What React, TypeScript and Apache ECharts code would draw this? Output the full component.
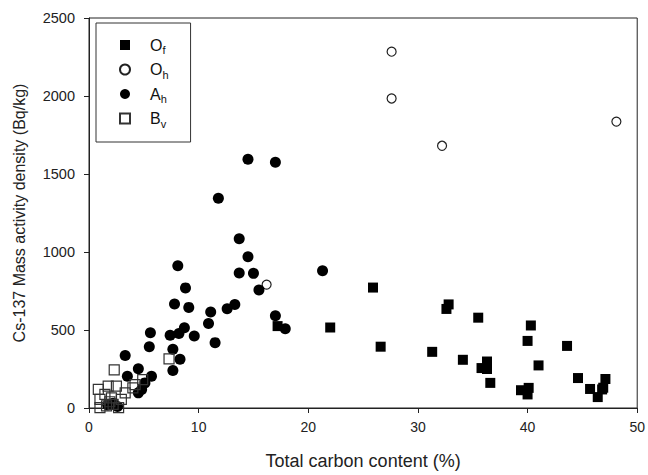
import React, { useEffect, useRef } from "react";
import * as echarts from "echarts";

const ofData: number[][] = [
  [17.2, 525], [22.0, 516], [25.9, 772], [26.6, 393], [32.8, 664], [32.6, 635],
  [35.5, 579], [31.3, 360], [34.1, 309], [36.3, 298], [35.8, 256], [36.3, 250],
  [36.6, 161], [40.3, 529], [40.0, 430], [41.0, 273], [43.6, 398], [39.4, 114],
  [40.1, 129], [40.0, 87], [44.6, 192], [45.7, 122], [47.1, 186], [46.8, 119],
  [46.4, 70], [46.9, 130],
];
const ohData: number[][] = [
  [27.6, 2284], [27.6, 1984], [32.2, 1681], [48.1, 1836], [16.2, 791],
];
const ahData: number[][] = [
  [14.5, 1595], [17.0, 1576], [11.8, 1345], [13.7, 1085], [14.5, 969], [13.7, 865],
  [15.0, 863], [21.3, 880], [15.5, 757], [11.1, 615], [10.9, 541], [12.6, 636],
  [13.3, 664], [11.5, 419], [17.0, 592], [17.9, 508],
  [8.1, 912], [8.8, 770], [7.8, 666], [9.1, 645], [5.6, 482], [7.4, 467], [8.2, 478],
  [8.7, 514], [9.6, 461], [5.5, 393], [7.65, 376], [8.3, 313], [7.65, 241],
  [3.3, 336], [4.5, 252], [3.5, 203], [5.7, 203], [5.1, 161], [4.8, 119], [4.5, 97],
  [1.7, 20], [2.2, 30], [2.6, 10],
];
const bvData: number[][] = [
  [7.3, 315], [2.3, 245], [4.2, 150], [4.9, 182], [4.0, 129], [0.85, 119], [1.75, 140],
  [2.5, 140], [1.45, 87], [3.3, 97], [1.0, 55], [2.05, 65], [2.95, 55], [1.0, 2],
  [1.6, 13], [2.2, 23], [2.7, 2], [1.9, 40],
];

const legendNames = ["O_f", "O_h", "A_h", "B_v"];

export default function App() {
  const ref = useRef<HTMLDivElement>(null);
  useEffect(() => {
    document.body.style.margin = "0";
    if (!ref.current) return;
    const chart = echarts.init(ref.current, null, { renderer: "svg" });
    const font = "Liberation Sans, Arial, sans-serif";
    chart.setOption({
      animation: false,
      textStyle: { fontFamily: font },
      grid: { left: 89, right: 8, top: 18, bottom: 63, show: true, borderColor: "#222", borderWidth: 1 },
      legend: {
        orient: "vertical",
        left: 96,
        top: 23,
        width: 84,
        padding: [14, 22, 13, 23],
        borderColor: "#333",
        borderWidth: 1,
        itemGap: 6,
        itemWidth: 10,
        itemHeight: 10,
        data: legendNames.map((n) => ({ name: n, itemStyle: { opacity: 1 } })),
        formatter: (name: string) => {
          const [a, b] = name.split("_");
          return `{m|${a}}{s|${b}}`;
        },
        textStyle: {
          padding: [0, 0, 0, 15],
          rich: {
            m: { fontSize: 16, lineHeight: 20, color: "#111", fontFamily: font },
            s: { fontSize: 11, color: "#111", fontFamily: font, padding: [10, 0, 0, 0] },
          },
        },
      },
      xAxis: {
        type: "value",
        min: 0,
        max: 50,
        interval: 10,
        name: "Total carbon content (%)",
        nameLocation: "middle",
        nameGap: 44,
        nameTextStyle: { fontSize: 18, color: "#222", fontFamily: font },
        axisLine: { onZero: false, lineStyle: { color: "#222" } },
        axisTick: { inside: false, length: 5, lineStyle: { color: "#222" } },
        axisLabel: { fontSize: 14, color: "#222", margin: 12, fontFamily: font, formatter: (v: number) => String(v) },
        splitLine: { show: false },
      },
      yAxis: {
        type: "value",
        min: 0,
        max: 2500,
        interval: 500,
        name: "Cs-137 Mass activity density (Bq/kg)",
        nameLocation: "middle",
        nameGap: 62,
        nameTextStyle: { fontSize: 16, color: "#222", fontFamily: font },
        axisLine: { show: true, onZero: false, lineStyle: { color: "#222" } },
        axisTick: { show: true, inside: false, length: 5, lineStyle: { color: "#222" } },
        axisLabel: { fontSize: 14.5, color: "#222", margin: 14, fontFamily: font, formatter: (v: number) => String(v) },
        splitLine: { show: false },
      },
      series: [
        {
          name: "O_f",
          type: "scatter",
          symbol: "rect",
          symbolSize: 10,
          data: ofData,
          itemStyle: { color: "#000", opacity: 1 },
        },
        {
          name: "O_h",
          type: "scatter",
          symbol: "circle",
          symbolSize: 9,
          data: ohData,
          itemStyle: { color: "#fff", borderColor: "#222", borderWidth: 1.2, opacity: 1 },
        },
        {
          name: "A_h",
          type: "scatter",
          symbol: "circle",
          symbolSize: 11,
          data: ahData,
          itemStyle: { color: "#000", opacity: 1 },
        },
        {
          name: "B_v",
          type: "scatter",
          symbol: "rect",
          symbolSize: 10,
          data: bvData,
          itemStyle: { color: "rgba(255,255,255,0)", borderColor: "#333", borderWidth: 1.2, opacity: 1 },
        },
      ],
    });
    return () => chart.dispose();
  }, []);
  return <div ref={ref} style={{ width: 648, height: 475 }} />;
}
